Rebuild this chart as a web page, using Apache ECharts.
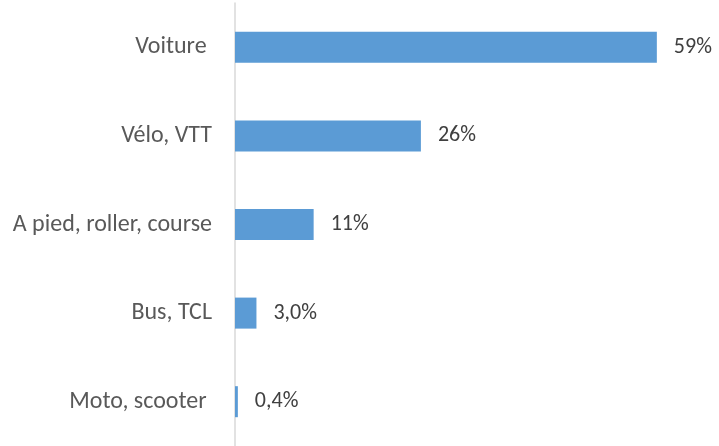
<!DOCTYPE html>
<html>
<head>
<meta charset="utf-8">
<script src="https://cdn.jsdelivr.net/npm/echarts@6/dist/echarts.min.js"></script>
<style>
  html, body { margin: 0; padding: 0; background: #ffffff; }
  #chart { width: 719px; height: 446px; }
</style>
</head>
<body>
<div id="chart"></div>
<script>
// Modes de déplacement (part en %)
const categories = ['Voiture ', 'Vélo, VTT', 'A pied, roller, course', 'Bus, TCL', 'Moto, scooter '];
const shares = [59, 26, 11, 3.0, 0.4];

const FONT = 'Carlito, Calibri, Lato, sans-serif';

function formatShare(v) {
  return v >= 10 ? Math.round(v) + '%' : v.toFixed(1).replace('.', ',') + '%';
}

const chart = echarts.init(document.getElementById('chart'));
chart.setOption({
  animation: false,
  grid: { left: 235, right: 55, top: 3, bottom: 0, containLabel: false },
  xAxis: {
    type: 'value',
    min: 0,
    max: 60,
    show: false
  },
  yAxis: {
    type: 'category',
    inverse: true,
    data: categories,
    axisLine: { show: true, lineStyle: { color: '#d9d9d9', width: 1.5 } },
    axisTick: { show: false },
    axisLabel: { margin: 23, color: '#595959', fontSize: 24, fontFamily: FONT }
  },
  series: [{
    type: 'bar',
    data: shares,
    barWidth: '35%',
    itemStyle: { color: '#5b9bd5' },
    label: {
      show: true,
      position: 'right',
      distance: 17,
      color: '#404040',
      fontSize: 22,
      fontFamily: FONT,
      formatter: p => formatShare(p.value)
    }
  }]
});
</script>
</body>
</html>
